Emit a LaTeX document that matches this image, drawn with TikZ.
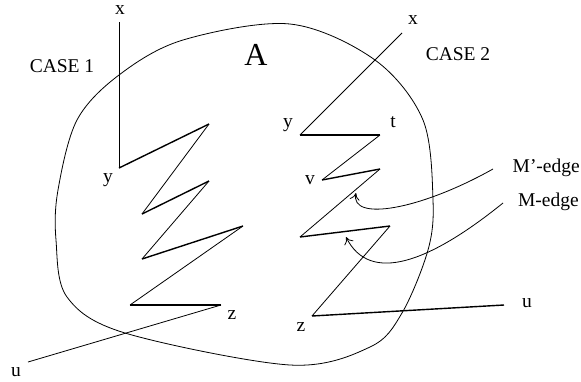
\documentclass[tikz,border=0pt]{standalone}
\usepackage{fontspec}
\setmainfont{Liberation Serif}
\usetikzlibrary{arrows.meta}
\tikzset{
  thinline/.style={line width=0.8pt},
  medge/.style={line width=1.4pt},
  lbl/.style={inner sep=0pt, font=\fontsize{19.5}{22}\selectfont},
  pointer/.style={line width=0.8pt, -{To[length=7pt,width=10pt]}},
}
\begin{document}
\begin{tikzpicture}[x=1pt,y=-1pt]
\useasboundingbox (0,0) rectangle (581,381);
% region A
\draw[thinline] plot[smooth cycle, tension=0.55] coordinates {
 (119,75) (183,40) (290,24) (375,60) (423,120) (433,200) (428,250)
 (402,313) (370,347) (290,365) (125,333) (67,297) (56,240) (58,190) (77,120)};
\node[lbl, font=\fontsize{32}{34}\selectfont] (A) at (256,55) {A};
\node[lbl] (case1) at (62,66) {CASE 1};
\node[lbl] (case2) at (458,54) {CASE 2};
% case 1
\coordinate (x1) at (119,22);
\coordinate (y1) at (119,168);
\coordinate (a1) at (209,124);
\coordinate (b1) at (142,214);
\coordinate (c1) at (209,181);
\coordinate (d1) at (142,259);
\coordinate (e1) at (243,226);
\coordinate (f1) at (130,305);
\coordinate (z1) at (221,305);
\coordinate (u1) at (28,362);
\draw[thinline] (x1) -- (y1);
\draw[medge] (y1) -- (a1);
\draw[thinline] (a1) -- (b1);
\draw[medge] (b1) -- (c1);
\draw[thinline] (c1) -- (d1);
\draw[medge] (d1) -- (e1);
\draw[thinline] (e1) -- (f1);
\draw[medge] (f1) -- (z1);
\draw[thinline] (z1) -- (u1);
\node[lbl] (lx1) at (120,10) {x};
\node[lbl] (ly1) at (108,180) {y};
\node[lbl] (lz1) at (232,315) {z};
\node[lbl] (lu1) at (16,372) {u};
% case 2
\coordinate (x2) at (402,33);
\coordinate (y2) at (300,135);
\coordinate (t2) at (380,135);
\coordinate (v2) at (322,180);
\coordinate (a2) at (380,169);
\coordinate (b2) at (300,237);
\coordinate (c2) at (390,226);
\coordinate (z2) at (312,316);
\coordinate (u2) at (504,305);
\draw[thinline] (x2) -- (y2);
\draw[medge] (y2) -- (t2);
\draw[thinline] (t2) -- (v2);
\draw[medge] (v2) -- (a2);
\draw[thinline] (a2) -- (b2);
\draw[medge] (b2) -- (c2);
\draw[thinline] (c2) -- (z2);
\draw[medge] (z2) -- (u2);
\node[lbl] (lx2) at (413,20) {x};
\node[lbl] (ly2) at (288,125) {y};
\node[lbl] (lt2) at (393,122) {t};
\node[lbl] (lv2) at (310,180) {v};
\node[lbl] (lz2) at (301,327) {z};
\node[lbl] (lu2) at (527,303) {u};
% pointers
\node[lbl, anchor=east] (mp) at (580,168) {M'-edge};
\node[lbl, anchor=east] (m) at (579,202) {M-edge};
\coordinate (mps) at (493,169);
\coordinate (mpt) at (356,193);
\coordinate (ms) at (503,203);
\coordinate (mt) at (346,237);
\draw[pointer] (mps) .. controls (420,210) and (350,222) .. (mpt);
\draw[pointer] (ms) .. controls (430,262) and (370,285) .. (mt);
\end{tikzpicture}
\end{document}
